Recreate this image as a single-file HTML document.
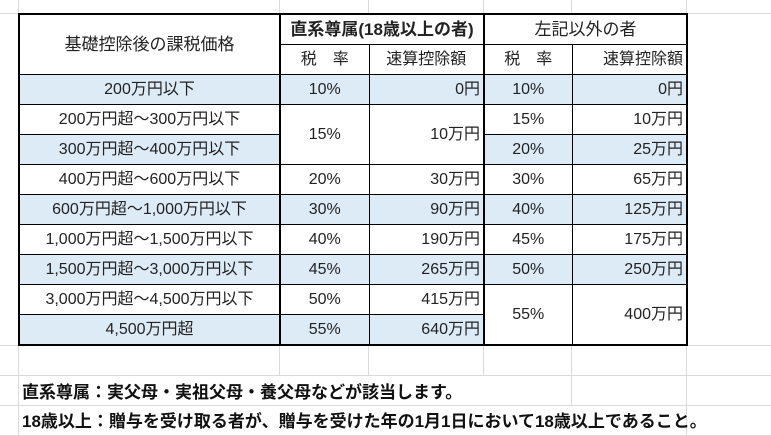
<!DOCTYPE html>
<html><head><meta charset="utf-8"><style>
html,body{margin:0;padding:0;background:#fff;}
body{width:771px;height:436px;position:relative;overflow:hidden;font-family:"Liberation Sans","Noto Sans CJK JP",sans-serif;color:#222;}
.g{position:absolute;background:#dadada;}
table{position:absolute;left:18px;top:13px;border-collapse:collapse;table-layout:fixed;border:2px solid #000;font-size:16px;}
td{border:1px solid #000;height:29px;padding:0 3px;text-align:center;white-space:nowrap;background:#fff;line-height:20px;}
td.b{background:#ddebf7;}
td.r{text-align:right;}
.tl{border-left:2px solid #000;}
.note{position:absolute;left:22px;font-size:17px;font-weight:bold;color:#111;}
</style></head><body>
<div class="g" style="left:0;top:13px;width:771px;height:1px"></div>
<div class="g" style="left:0;top:375px;width:771px;height:1px"></div>
<div class="g" style="left:0;top:405px;width:771px;height:1px"></div>
<div class="g" style="left:0;top:435px;width:771px;height:1px"></div>
<div class="g" style="left:0;top:345px;width:771px;height:1px"></div>
<div class="g" style="left:18px;top:0;width:1px;height:436px"></div>
<div class="g" style="left:279px;top:0;width:1px;height:375px"></div>
<div class="g" style="left:368px;top:0;width:1px;height:375px"></div>
<div class="g" style="left:483px;top:0;width:1px;height:375px"></div>
<div class="g" style="left:571px;top:0;width:1px;height:405px"></div>
<div class="g" style="left:686px;top:0;width:1px;height:436px"></div>
<table>
<colgroup><col style="width:261px"><col style="width:89px"><col style="width:115px"><col style="width:88px"><col style="width:115px"></colgroup>
<tr><td rowspan="2" style="font-size:17px">基礎控除後の課税価格</td><td colspan="2" class="tl" style="font-weight:bold;font-size:17px">直系尊属(18歳以上の者)</td><td colspan="2" class="tl" style="font-size:17px">左記以外の者</td></tr>
<tr><td class="tl">税　率</td><td>速算控除額</td><td class="tl">税　率</td><td class="r">速算控除額</td></tr>
<tr><td class="b">200万円以下</td><td class="b tl">10%</td><td class="b r">0円</td><td class="b tl">10%</td><td class="b r">0円</td></tr>
<tr><td>200万円超～300万円以下</td><td rowspan="2" class="tl">15%</td><td rowspan="2" class="r">10万円</td><td class="tl">15%</td><td class="r">10万円</td></tr>
<tr><td class="b">300万円超～400万円以下</td><td class="b tl">20%</td><td class="b r">25万円</td></tr>
<tr><td>400万円超～600万円以下</td><td class="tl">20%</td><td class="r">30万円</td><td class="tl">30%</td><td class="r">65万円</td></tr>
<tr><td class="b">600万円超～1,000万円以下</td><td class="b tl">30%</td><td class="b r">90万円</td><td class="b tl">40%</td><td class="b r">125万円</td></tr>
<tr><td>1,000万円超～1,500万円以下</td><td class="tl">40%</td><td class="r">190万円</td><td class="tl">45%</td><td class="r">175万円</td></tr>
<tr><td class="b">1,500万円超～3,000万円以下</td><td class="b tl">45%</td><td class="b r">265万円</td><td class="b tl">50%</td><td class="b r">250万円</td></tr>
<tr><td>3,000万円超～4,500万円以下</td><td class="tl">50%</td><td class="r">415万円</td><td rowspan="2" class="tl">55%</td><td rowspan="2" class="r">400万円</td></tr>
<tr><td class="b">4,500万円超</td><td class="b tl">55%</td><td class="b r">640万円</td></tr>
</table>
<div class="note" style="top:378px">直系尊属：実父母・実祖父母・養父母などが該当します。</div>
<div class="note" style="top:407px">18歳以上：贈与を受け取る者が、贈与を受けた年の1月1日において18歳以上であること。</div>
</body></html>
